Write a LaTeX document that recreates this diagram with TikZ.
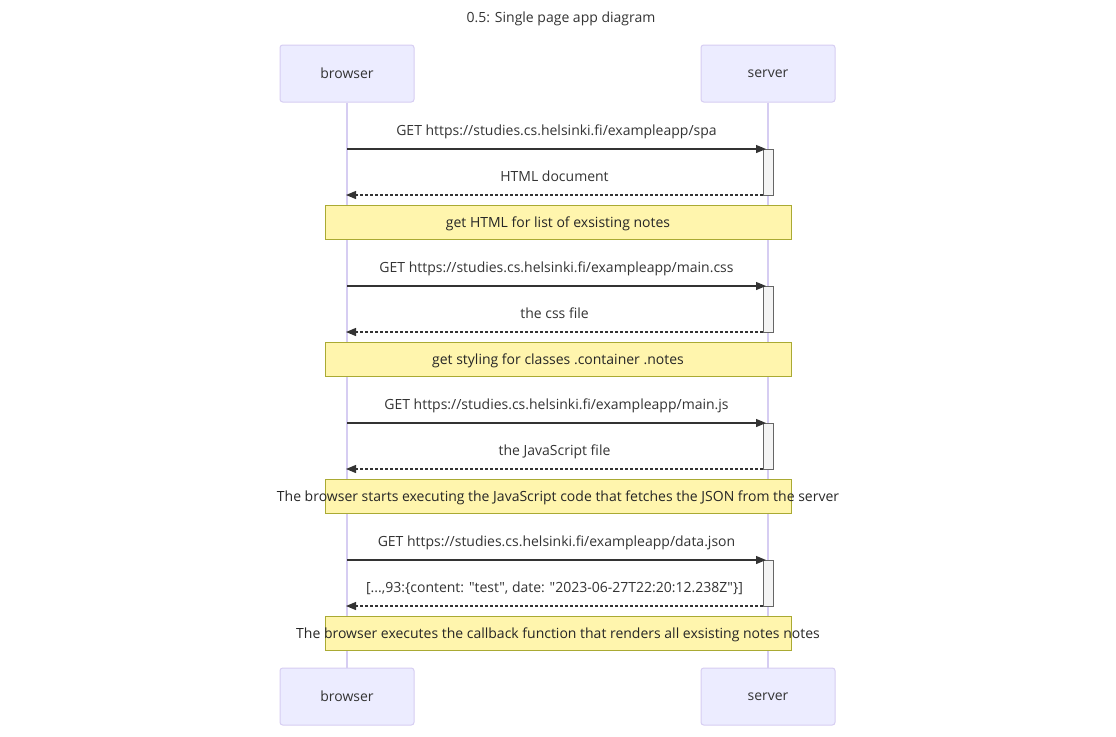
\documentclass[tikz,border=0pt]{standalone}
\usepackage{fontspec}
\setmainfont{Open Sans}[Ligatures=TeXOff]
\usepackage{xcolor}
\definecolor{seqText}{HTML}{333333}
\definecolor{actorFill}{HTML}{ECECFF}
\definecolor{actorBorder}{HTML}{D6CDF2}
\definecolor{noteFill}{HTML}{FFF5AD}
\definecolor{noteBorder}{HTML}{AAAA33}
\definecolor{actFill}{HTML}{F4F4F4}
\definecolor{actBorder}{HTML}{666666}
\usepackage{tikz}
\usetikzlibrary{arrows.meta,positioning}
\tikzset{
    actor/.style={
        draw=actorBorder,
        fill=actorFill,
        rectangle,
        rounded corners=2pt,
        minimum width=100.5pt,
        minimum height=42.75pt,
        line width=0.75pt,
        text depth=0pt,
        font=\fontsize{10.5}{12}\selectfont,
        text=seqText
    },
    lifeline/.style={
        draw=actorBorder,
        line width=0.9pt
    },
    activation/.style={
        draw=actBorder,
        fill=actFill,
        rectangle,
        anchor=north,
        minimum width=7.5pt,
        minimum height=34.5pt,
        inner sep=0pt,
        line width=0.6pt
    },
    request/.style={
        -{Triangle[length=7.5pt,width=6pt]},
        line width=0.9pt,
        color=seqText
    },
    reply/.style={
        -{Triangle[length=7.5pt,width=6pt]},
        line width=0.9pt,
        dash pattern=on 2.25pt off 1.5pt,
        color=seqText
    },
    msg/.style={
        font=\fontsize{10.5}{12}\selectfont,
        text=seqText,
        text depth=0pt,
        midway,
        inner sep=0pt
    },
    note/.style={
        draw=noteBorder,
        fill=noteFill,
        rectangle,
        minimum width=349.5pt,
        minimum height=25.5pt,
        line width=0.6pt,
        text depth=0pt,
        font=\fontsize{10.5}{12}\selectfont,
        text=black!85
    },
    title/.style={
        font=\fontsize{10.5}{12}\selectfont,
        text depth=0pt,
        text=seqText
    }
}

\begin{document}
\begin{tikzpicture}[x=0.75pt, y=-0.75pt]
    \useasboundingbox (0,0) rectangle (1116,736);

    % Title
    \node[title] (title) at (561,17) {0.5: Single page app diagram};

    % Actors
    \node[actor] (browser) at (347,73.5) {browser};
    \node[actor] (server) at (768,73.5) {server};
    \node[actor] (browserEnd) at (347,696.5) {browser};
    \node[actor] (serverEnd) at (768,696.5) {server};

    % Lifelines
    \draw[lifeline] (browser) -- (browserEnd);
    \draw[lifeline] (server) -- (serverEnd);

    % Activations
    \node[activation] (act1) at (768,149) {};
    \node[activation] (act2) at (768,286) {};
    \node[activation] (act3) at (768,423) {};
    \node[activation] (act4) at (768,560) {};

    % Message points
    \coordinate (b1) at (347,149);
    \coordinate (s1) at (766,149);
    \coordinate (b2) at (346,195);
    \coordinate (s2) at (763,195);
    \coordinate (b3) at (347,286);
    \coordinate (s3) at (766,286);
    \coordinate (b4) at (346,332);
    \coordinate (s4) at (763,332);
    \coordinate (b5) at (347,423);
    \coordinate (s5) at (766,423);
    \coordinate (b6) at (346,469);
    \coordinate (s6) at (763,469);
    \coordinate (b7) at (347,560);
    \coordinate (s7) at (766,560);
    \coordinate (b8) at (346,606);
    \coordinate (s8) at (763,606);

    % Messages
    \draw[request] (b1) -- node[msg, yshift=14.5pt] {GET https://studies.cs.helsinki.fi/exampleapp/spa} (s1);
    \draw[reply] (s2) -- node[msg, yshift=14pt] {HTML document} (b2);
    \draw[request] (b3) -- node[msg, yshift=14.5pt] {GET https://studies.cs.helsinki.fi/exampleapp/main.css} (s3);
    \draw[reply] (s4) -- node[msg, yshift=14pt] {the css file} (b4);
    \draw[request] (b5) -- node[msg, yshift=14.5pt] {GET https://studies.cs.helsinki.fi/exampleapp/main.js} (s5);
    \draw[reply] (s6) -- node[msg, yshift=14pt] {the JavaScript file} (b6);
    \draw[request] (b7) -- node[msg, yshift=14.5pt] {GET https://studies.cs.helsinki.fi/exampleapp/data.json} (s7);
    \draw[reply] (s8) -- node[msg, yshift=14pt] {[...,93:\{content: "test", date: "2023-06-27T22:20:12.238Z"\}]} (b8);

    % Notes
    \node[note] (note1) at (558,222) {\makebox[0pt]{get HTML for list of exsisting notes}};
    \node[note] (note2) at (558,359) {\makebox[0pt]{get styling for classes .container .notes}};
    \node[note] (note3) at (558,496) {\makebox[0pt]{The browser starts executing the JavaScript code that fetches the JSON from the server}};
    \node[note] (note4) at (558,633) {\makebox[0pt]{The browser executes the callback function that renders all exsisting notes notes}};
\end{tikzpicture}
\end{document}
